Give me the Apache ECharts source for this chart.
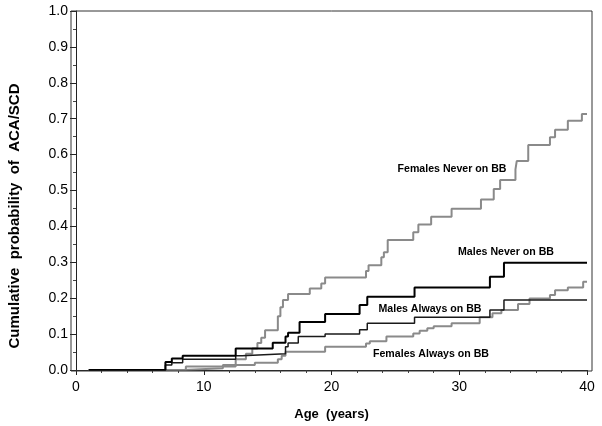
<!DOCTYPE html>
<html><head><meta charset="utf-8">
<script src="https://cdn.jsdelivr.net/npm/echarts@6/dist/echarts.min.js"></script>
<style>html,body{margin:0;padding:0;background:#fff}#c{width:602px;height:426px}</style>
</head><body><div id="c"></div>
<script>
// Kaplan-Meier style step data: [age (years), cumulative probability]
const femalesNever = [[1,0],[8.6,0.010],[12.5,0.030],[13.3,0.045],[13.8,0.060],[14.2,0.075],[14.5,0.090],[14.8,0.111],[15.8,0.150],[16.0,0.175],[16.2,0.195],[16.6,0.212],[18.3,0.227],[19.2,0.241],[19.5,0.258],[22.7,0.276],[22.9,0.292],[23.9,0.314],[24.1,0.328],[24.4,0.362],[26.4,0.384],[26.8,0.405],[27.8,0.427],[29.4,0.449],[31.7,0.475],[32.7,0.504],[33.2,0.529],[34.4,0.559],[34.5,0.582],[35.4,0.627],[37.1,0.648],[37.5,0.669],[38.5,0.694],[39.6,0.713],[40,0.713]];
const malesNever = [[1,0],[7.0,0.022],[7.5,0.032],[8.35,0.040],[12.5,0.060],[15.4,0.076],[16.4,0.093],[16.6,0.104],[17.5,0.134],[19.5,0.156],[22.2,0.181],[22.8,0.204],[26.5,0.230],[32.4,0.260],[33.5,0.299],[40,0.299]];
const malesAlways = [[1,0],[7.0,0.014],[7.5,0.020],[8.35,0.030],[12.5,0.040],[13.0,0.045],[16.4,0.065],[16.6,0.075],[17.4,0.093],[19.5,0.100],[22.2,0.112],[22.8,0.130],[26.5,0.147],[32.4,0.167],[33.5,0.195],[40,0.195]];
const femalesAlways = [[1,0],[8.4,0.005],[11.5,0.014],[14.0,0.020],[15.8,0.030],[16.1,0.040],[16.4,0.051],[19.5,0.065],[22.7,0.074],[23.0,0.080],[24.3,0.093],[26.4,0.102],[26.9,0.109],[27.5,0.116],[28.0,0.122],[29.4,0.130],[31.6,0.147],[32.6,0.158],[33.3,0.167],[34.6,0.184],[35.5,0.199],[37.1,0.209],[37.5,0.222],[38.5,0.230],[39.7,0.246],[40,0.246]];
const seriesNames = ['Females Never on BB','Males Never on BB','Males Always on BB','Females Always on BB'];
const xTitle = 'Age  (years)';
const yTitle = 'Cumulative  probability  of  ACA/SCD';

const chart = echarts.init(document.getElementById('c'), null, {renderer:'canvas'});
const FONT = 'Liberation Sans, Arial, sans-serif';
const labelStyle = {fontFamily: FONT, fontWeight: 'bold', fontSize: 10.6, fill: '#000', align: 'center', verticalAlign: 'middle'};
chart.setOption({
  animation: false,
  backgroundColor: '#fff',
  grid: {left: 76, right: 15, top: 11, bottom: 56},
  xAxis: {
    type: 'value', min: 0, max: 40, interval: 10,
    axisLine: {show: true, lineStyle: {color: '#222', width: 1}},
    axisTick: {show: true, length: 5, lineStyle: {color: '#222'}},
    minorTick: {show: true, splitNumber: 5, length: 3, lineStyle: {color: '#444'}},
    splitLine: {show: false},
    axisLabel: {fontFamily: FONT, fontSize: 14, color: '#000', margin: 10},
    name: xTitle, nameLocation: 'middle', nameGap: 38,
    nameTextStyle: {fontFamily: FONT, fontWeight: 'bold', fontSize: 13, color: '#000'}
  },
  yAxis: {
    type: 'value', min: 0, max: 1, interval: 0.1, offset: 5,
    axisLine: {show: true, lineStyle: {color: '#222', width: 1}},
    axisTick: {show: true, length: 6, lineStyle: {color: '#222'}},
    minorTick: {show: true, splitNumber: 2, length: 3, lineStyle: {color: '#444'}},
    splitLine: {show: false},
    axisLabel: {fontFamily: FONT, fontSize: 14, color: '#000', margin: 3, formatter: v => v.toFixed(1)}
  },
  graphic: [
    {type: 'rect', shape: {x: 71, y: 11, width: 521, height: 360}, style: {fill: 'none', stroke: '#333', lineWidth: 1}, silent: true, z: 10},
    {type: 'text', x: 15, y: 216, rotation: Math.PI/2, style: Object.assign({}, labelStyle, {text: yTitle, fontSize: 15})},
    {type: 'text', x: 452, y: 169, style: Object.assign({}, labelStyle, {text: seriesNames[0]})},
    {type: 'text', x: 506, y: 252, style: Object.assign({}, labelStyle, {text: seriesNames[1]})},
    {type: 'text', x: 430, y: 309, style: Object.assign({}, labelStyle, {text: seriesNames[2]})},
    {type: 'text', x: 431, y: 354, style: Object.assign({}, labelStyle, {text: seriesNames[3]})}
  ],
  series: [
    {name: seriesNames[3], type: 'line', step: 'end', data: femalesAlways, symbol: 'none', lineStyle: {color: '#8a8a8a', width: 2}},
    {name: seriesNames[0], type: 'line', step: 'end', data: femalesNever, symbol: 'none', lineStyle: {color: '#8a8a8a', width: 2}},
    {name: seriesNames[2], type: 'line', step: 'end', data: malesAlways, symbol: 'none', lineStyle: {color: '#1a1a1a', width: 1.5}},
    {name: seriesNames[1], type: 'line', step: 'end', data: malesNever, symbol: 'none', lineStyle: {color: '#000', width: 2}}
  ]
});
</script></body></html>
